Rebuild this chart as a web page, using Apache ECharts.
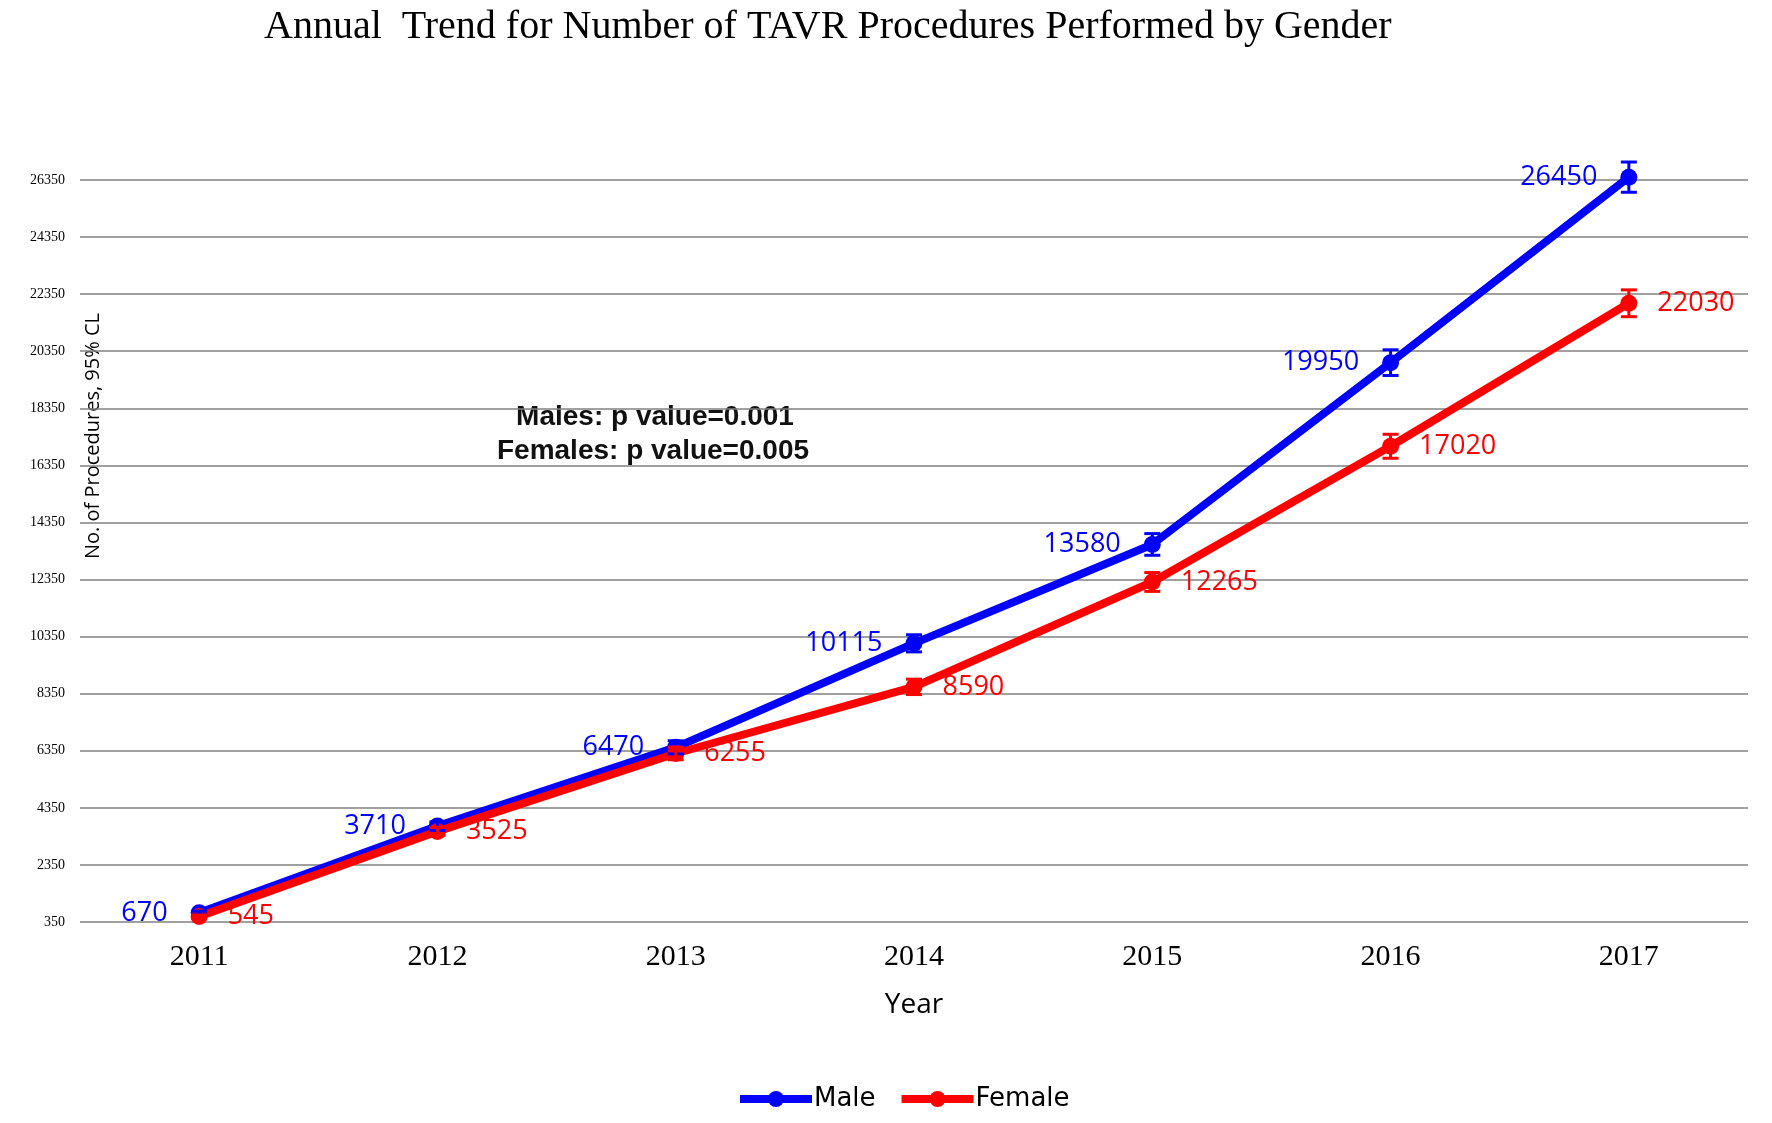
<!DOCTYPE html>
<html>
<head>
<meta charset="utf-8">
<script src="https://cdn.jsdelivr.net/npm/echarts@6/dist/echarts.min.js"></script>
<style>
html,body{margin:0;padding:0;background:#fff;}
#chart{width:1772px;height:1123px;}
</style>
</head>
<body>
<div id="chart"></div>
<script>
const years = ['2011', '2012', '2013', '2014', '2015', '2016', '2017'];
const maleValues = [670, 3710, 6470, 10115, 13580, 19950, 26450];
const femaleValues = [545, 3525, 6255, 8590, 12265, 17020, 22030];
const maleLow = [610, 3560, 6240, 9815, 13200, 19500, 25920];
const maleHigh = [730, 3860, 6700, 10415, 13960, 20400, 26980];
const femaleLow = [495, 3385, 6035, 8320, 11935, 16600, 21560];
const femaleHigh = [595, 3665, 6475, 8860, 12595, 17440, 22500];
const yTicks = [350, 2350, 4350, 6350, 8350, 10350, 12350, 14350, 16350, 18350, 20350, 22350, 24350, 26350];

const chart = echarts.init(document.getElementById('chart'));

function errorBars(low, high, color) {
  return {
    type: 'custom',
    clip: false,
    silent: true,
    z: 5,
    data: years.map((y, i) => [i, low[i], high[i]]),
    renderItem: function (params, api) {
      const x = api.value(0);
      const p1 = api.coord([x, api.value(1)]);
      const p2 = api.coord([x, api.value(2)]);
      const hw = 8;
      const style = { stroke: color, lineWidth: 3 };
      return {
        type: 'group',
        children: [
          { type: 'line', shape: { x1: p1[0], y1: p1[1], x2: p2[0], y2: p2[1] }, style: style },
          { type: 'line', shape: { x1: p1[0] - hw, y1: p1[1], x2: p1[0] + hw, y2: p1[1] }, style: style },
          { type: 'line', shape: { x1: p2[0] - hw, y1: p2[1], x2: p2[0] + hw, y2: p2[1] }, style: style }
        ]
      };
    }
  };
}

const labelFont = { fontFamily: 'Open Sans', fontSize: 27 };

chart.setOption({
  backgroundColor: '#ffffff',
  animation: false,
  title: {
    text: 'Annual  Trend for Number of TAVR Procedures Performed by Gender',
    left: 259,
    top: 2,
    textStyle: { fontFamily: 'Liberation Serif', fontSize: 40, fontWeight: 'normal', color: '#000' }
  },
  legend: {
    data: ['Male', 'Female'],
    left: 731,
    top: 1081,
    itemWidth: 72,
    itemHeight: 20,
    itemGap: 22,
    lineStyle: { width: 8 },
    textStyle: { fontFamily: 'DejaVu Sans', fontSize: 26, color: '#000', padding: [0, 0, 0, -3] }
  },
  grid: { left: 80, right: 24, top: 180, bottom: 201, containLabel: false },
  xAxis: {
    type: 'category',
    data: years,
    boundaryGap: true,
    axisLine: { show: false },
    axisTick: { show: false },
    axisLabel: { fontFamily: 'Liberation Serif', fontSize: 30, color: '#000', margin: 20 },
    name: 'Year',
    nameLocation: 'middle',
    nameGap: 69,
    nameTextStyle: { fontFamily: 'Open Sans', fontSize: 28, color: '#000' }
  },
  yAxis: {
    type: 'value',
    min: 350,
    max: 26350,
    interval: 2000,
    axisLine: { show: false },
    axisTick: { show: false },
    splitLine: { show: true, lineStyle: { color: '#808080', width: 1.6 } },
    axisLabel: {
      fontFamily: 'Liberation Serif', fontSize: 14, color: '#000', margin: 15,
      formatter: function (v) { return yTicks.indexOf(v) >= 0 ? String(v) : ''; }
    }
  },
  graphic: [
    {
      type: 'text',
      rotation: Math.PI / 2,
      x: 93, y: 436,
      style: {
        text: 'No. of Procedures, 95% CL',
        fontFamily: 'Open Sans', fontSize: 20, fill: '#000',
        align: 'center', verticalAlign: 'middle'
      }
    },
    {
      type: 'text',
      x: 655, y: 417,
      style: {
        text: 'Males: p value=0.001',
        fontFamily: 'Liberation Sans', fontSize: 28, fontWeight: 'bold', fill: '#111',
        align: 'center', verticalAlign: 'middle'
      }
    },
    {
      type: 'text',
      x: 653, y: 451,
      style: {
        text: 'Females: p value=0.005',
        fontFamily: 'Liberation Sans', fontSize: 28, fontWeight: 'bold', fill: '#111',
        align: 'center', verticalAlign: 'middle'
      }
    }
  ],
  series: [
    {
      name: 'Male',
      type: 'line',
      data: maleValues,
      clip: false,
      z: 3,
      color: '#0000ff',
      symbol: 'circle',
      symbolSize: 17,
      lineStyle: { width: 8, color: '#0000ff' },
      itemStyle: { color: '#0000ff' },
      label: { show: true, position: 'left', distance: 23, color: '#0000ff', ...labelFont }
    },
    errorBars(maleLow, maleHigh, '#0000ff'),
    {
      name: 'Female',
      type: 'line',
      data: femaleValues,
      clip: false,
      z: 4,
      color: '#ff0000',
      symbol: 'circle',
      symbolSize: 17,
      lineStyle: { width: 8, color: '#ff0000' },
      itemStyle: { color: '#ff0000' },
      label: { show: true, position: 'right', distance: 20, color: '#ff0000', ...labelFont }
    },
    errorBars(femaleLow, femaleHigh, '#ff0000')
  ]
});
</script>
</body>
</html>
